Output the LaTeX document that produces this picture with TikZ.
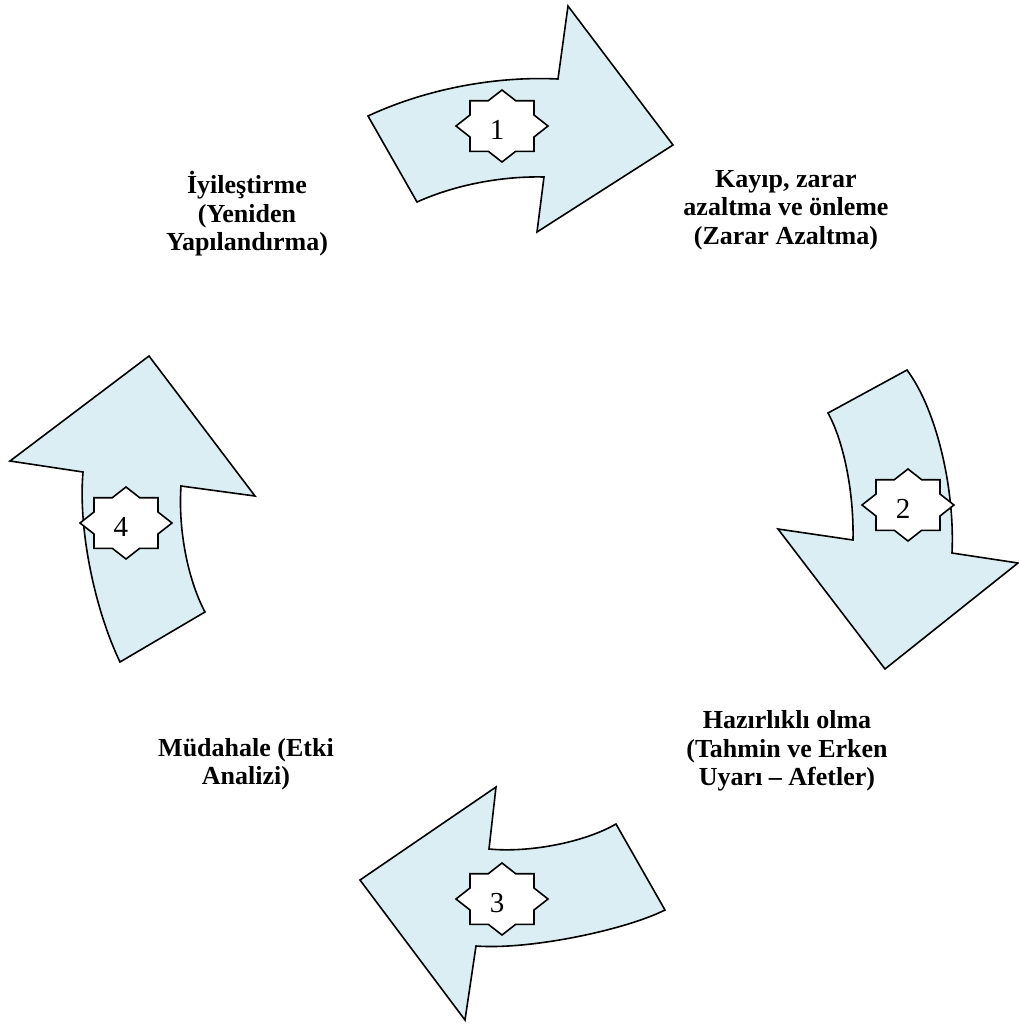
\documentclass[tikz,border=0pt]{standalone}
\usepackage{fontspec}
\setmainfont{Liberation Serif}
\definecolor{cyclefill}{RGB}{218,238,243}
\tikzset{
  burst/.pic={\path[burstline] (0,-36) -- (13.7,-25.3) -- (32,-25.3) -- (32,-11) -- (46,0) -- (32,11) -- (32,25.3) -- (13.7,25.3) -- (0,36) -- (-13.7,25.3) -- (-32,25.3) -- (-32,11) -- (-46,0) -- (-32,-11) -- (-32,-25.3) -- (-13.7,-25.3) -- cycle;}
}
\begin{document}
\begin{tikzpicture}[x=0.5pt,y=-0.5pt,
  arrowshape/.style={draw=black, line width=0.8pt, fill=cyclefill, line join=miter},
  burstline/.style={draw=black, line width=0.8pt, fill=white},
  phase/.style={font=\fontsize{13}{14.25}\selectfont\bfseries, align=center, inner sep=0pt},
  num/.style={font=\fontsize{14.5}{16}\selectfont, inner sep=0pt}]
\useasboundingbox (0,0) rectangle (1019,1025);
% arrow 1
\path[arrowshape] (368,116) .. controls (428,88) and (498,76) .. (558,79) -- (568,6) -- (673,145) -- (537,232) -- (544,177) .. controls (504,176) and (457,184) .. (417,202) -- cycle;
% arrow 2
\path[arrowshape] (828,413) -- (907,370) .. controls (937,410) and (955,490) .. (952,553) -- (1018,563) -- (885,669) -- (778,529) -- (853,540) .. controls (854,490) and (843,440) .. (828,413) -- cycle;
% arrow 3
\path[arrowshape] (489,849) .. controls (530,853) and (585,842) .. (616,824) -- (665,910) .. controls (625,930) and (530,950) .. (476,946) -- (465,1020) -- (360,880) -- (496,787) -- cycle;
% arrow 4
\path[arrowshape] (149,356) -- (255,496) -- (181,486) .. controls (178,530) and (188,580) .. (205,612) -- (120,662) .. controls (95,610) and (78,530) .. (83,472) -- (10,461) -- cycle;
% stars
\pic at (502,126) {burst};
\pic at (908,505) {burst};
\pic at (502,899) {burst};
\pic at (126,523) {burst};
\node[num] (n1) at (497,130) {1};
\node[num] (n2) at (903,509) {2};
\node[num] (n3) at (497,903) {3};
\node[num] (n4) at (121,527) {4};
% labels
\node[phase] (l1) at (786,210) {Kayıp, zarar\\azaltma ve önleme\\(Zarar Azaltma)};
\node[phase] (l2) at (247,214) {İyileştirme\\(Yeniden\\Yapılandırma)};
\node[phase] (l3) at (787,751) {Hazırlıklı olma\\(Tahmin ve Erken\\Uyarı – Afetler)};
\node[phase] (l4) at (246,764) {Müdahale (Etki\\Analizi)};
\end{tikzpicture}
\end{document}
